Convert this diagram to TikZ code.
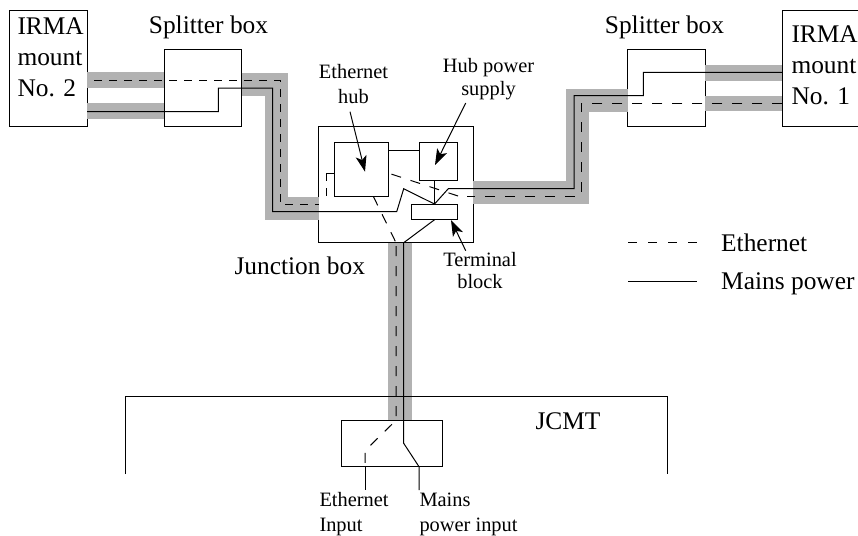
\documentclass[tikz,border=0pt]{standalone}
\usepackage{fontspec}
\setmainfont{Liberation Serif}
\usetikzlibrary{arrows.meta}

\begin{document}
\begin{tikzpicture}[x=1pt,y=-1pt,line width=1pt,
 b/.style={draw=black,fill=none,inner sep=0pt,outer sep=0pt},
 lg/.style={font=\fontsize{25.4}{31}\selectfont,align=left,inner sep=0pt},
 sm/.style={font=\fontsize{20.4}{25}\selectfont,align=center,inner sep=0pt},
 g/.style={draw=black!30,line width=23pt,line join=miter},
 gn/.style={g,line width=15.5pt},
 eth/.style={dash pattern=on 10pt off 10pt},
 ethl/.style={dash pattern=on 8pt off 7pt},
 a/.style={-{Stealth[length=16pt,width=11pt,inset=4pt]},line width=1pt}]
\useasboundingbox (0,0) rectangle (858,535);
% boxes
\node[b,minimum width=77.5pt,minimum height=116pt] (irmatwo) at (48.25,68.5) {};
\node[b,minimum width=77.5pt,minimum height=77pt] (splitl) at (202.75,88) {};
\node[b,minimum width=77.5pt,minimum height=77pt] (splitr) at (666.5,88) {};
\node[b,minimum width=90pt,minimum height=116pt] (irmaone) at (827.3,68.5) {};
\node[b,minimum width=154.3pt,minimum height=116pt] (junction) at (395.85,184.7) {};
\node[b,minimum width=54pt,minimum height=54.3pt] (hub) at (361,169.2) {};
\node[b,minimum width=38.4pt,minimum height=38.7pt] (psu) at (438.5,161.4) {};
\node[b,minimum width=46.4pt,minimum height=15.7pt] (term) at (434.5,211.9) {};
\node[b,minimum width=100.6pt,minimum height=46.4pt] (jcmtbox) at (392,443.5) {};
% gray cable bands
\draw[gn] (irmatwo.east |- 0,80) -- (splitl.west |- 0,80);
\draw[gn] (irmatwo.east |- 0,111) -- (splitl.west |- 0,111);
\draw[g] (splitl.east |- 0,84) -- (276,84) -- (276,208) -- (junction.west |- 0,208);
\draw[gn] (splitr.east |- 0,73) -- (irmaone.west |- 0,73);
\draw[gn] (splitr.east |- 0,103.7) -- (irmaone.west |- 0,103.7);
\draw[g] (splitr.west |- 0,100) -- (577.7,100) -- (577.7,192.3) -- (junction.east |- 0,192.3);
\draw[g,line width=24pt] (junction.south -| 400,0) -- (jcmtbox.north -| 400,0);
% JCMT outline
\coordinate (jcmtl) at (125,474);
\coordinate (jcmtr) at (667,474);
\draw (jcmtl) -- (125,396.7) -- (667,396.7) -- (jcmtr);
% mains
\draw (irmatwo.east |- 0,111.7) -- (218.3,111.7) -- (218.3,88) -- (272.5,88) -- (272.5,211.7) -- (396.7,211.7) -- (403.7,188.7) -- (term.north);
\draw (irmaone.west |- 0,72.3) -- (643.3,72.3) -- (643.3,95.7) -- (574,95.7) -- (574,188.7) -- (448.3,188.7) -- (term.north);
\draw (psu.south -| term.north) -- (term.north);
\draw (hub.east |- 0,150) -- (psu.west |- 0,150);
\coordinate (mainsin) at (419,490);
\coordinate (ethin) at (365,490);
\draw (term.south) -- (403.7,242.7) -- (403.7,443.3) -- (419,466.7) -- (mainsin);
\draw (365,466.7) -- (ethin);
\draw (hub.west |- 0,173) -- (326,173);
% ethernet
\draw[ethl] (94,80) -- (280,80) -- (280,204) -- (318.7,204);
\draw[ethl] (326,173) -- (326,203);
\draw[eth] (irmaone.west |- 0,103.3) -- (581.3,103.3) -- (581.3,196) -- (467,196);
\draw[eth] (458,196) -- (hub.east |- 0,173);
\draw[eth] (hub.south -| 373.3,0) -- (396,242.7);
\draw[eth] (396,246) -- (396,420.3) -- (365,450.7) -- (365,466.7);
% labels
\node[lg,anchor=base west] (irmatwol) at (17,96) {IRMA\\mount\\No. 2};
\node[lg,anchor=base west] (irmaonel) at (791,104) {IRMA\\mount\\No. 1};
\node[lg,anchor=base] (splitlt) at (208.5,34) {Splitter box};
\node[lg,anchor=base] (splitrt) at (664.5,34) {Splitter box};
\node[lg,anchor=base west] (junctiont) at (234,274) {Junction box};
\node[lg,anchor=base west] (jcmtt) at (535,429) {JCMT};
\node[sm,anchor=base] (hubt) at (353.5,103) {Ethernet\\hub\hspace{9pt}};
\node[sm,anchor=base] (psut) at (488.5,95) {Hub power\\[-2.5pt]supply\hspace{7pt}};
\node[sm,anchor=base] (termt) at (480,288) {Terminal\\[-3pt]block};
\node[sm,anchor=base west,align=left] (ethint) at (319,531) {Ethernet\\Input};
\node[sm,anchor=base west,align=left] (mainst) at (419,531) {Mains\\power input};
% pointers
\draw[a] (350,111.7) -- (365,171.7);
\draw[a] (465.7,103) -- (435,165);
\draw[a] (465.7,250.7) -- (451,220);
% legend
\node[lg,anchor=base west] (legeth) at (720.7,251.7) {Ethernet};
\node[lg,anchor=base west] (legmains) at (720.7,289) {Mains power};
\coordinate (legethl) at (628,242.7);
\coordinate (legethr) at (700,242.7);
\coordinate (legmainsl) at (628,281);
\coordinate (legmainsr) at (697,281);
\draw[dash pattern=on 9pt off 11pt] (legethl) -- (legethr);
\draw (legmainsl) -- (legmainsr);
\end{tikzpicture}
\end{document}
